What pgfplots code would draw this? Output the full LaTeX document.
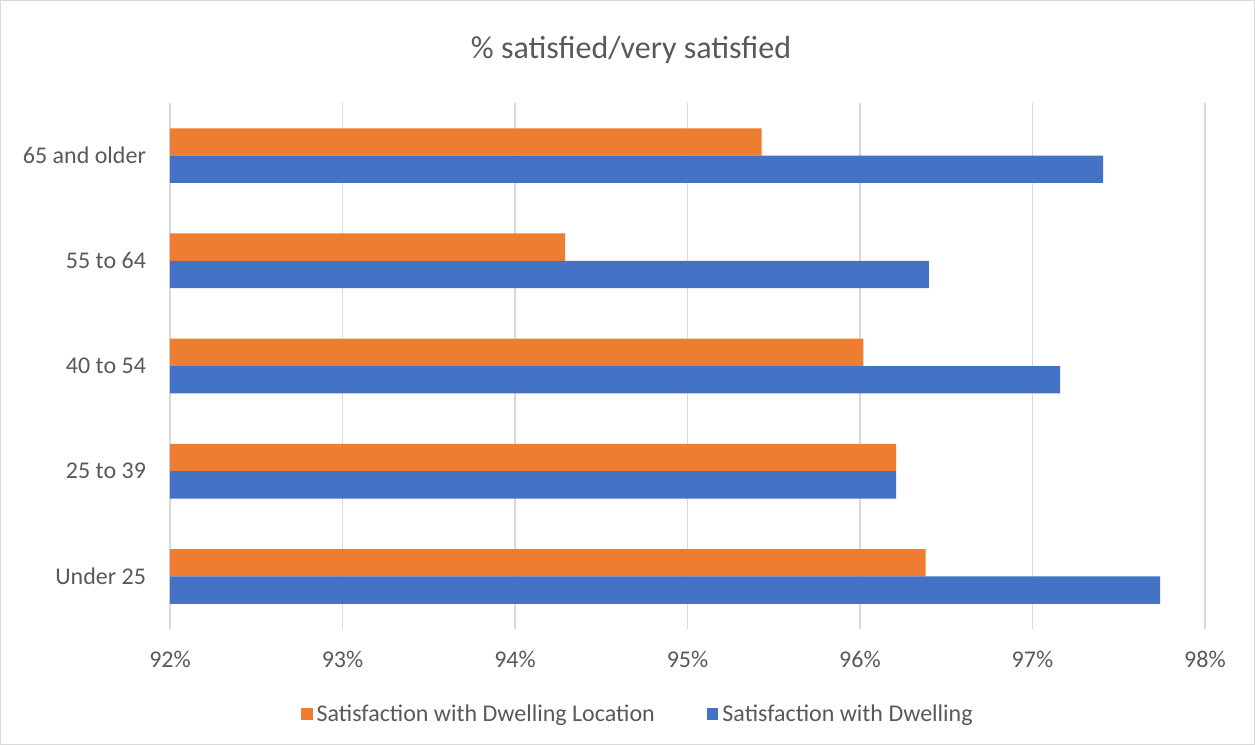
\documentclass[border=0pt]{standalone}
\usepackage{fontspec}
\setmainfont{Carlito}
\usepackage{pgfplots}
\pgfplotsset{compat=1.18}
\definecolor{txt}{HTML}{595959}
\definecolor{gridc}{HTML}{D9D9D9}
\definecolor{borderc}{HTML}{D9D9D9}
\definecolor{orng}{HTML}{ED7D31}
\definecolor{blu}{HTML}{4472C4}
\begin{document}
\begin{tikzpicture}
\draw[borderc, line width=0.6pt] (0.3pt,0.3pt) rectangle (627.2pt,372.2pt);
\node[text=txt, font=\fontsize{16pt}{19pt}\selectfont] at (315.5pt,347.5pt) {\% satisfied/very satisfied};
\begin{axis}[
  at={(85pt,58pt)}, anchor=south west,
  scale only axis, width=517.5pt, height=263pt,
  xbar, bar width=0.26,
  xmin=92, xmax=98, ymin=-0.5, ymax=4.5,
  xtick={92,93,94,95,96,97,98},
  xticklabels={92\%,93\%,94\%,95\%,96\%,97\%,98\%},
  ytick={0,1,2,3,4},
  yticklabels={Under 25,25 to 39,40 to 54,55 to 64,65 and older},
  xmajorgrids, grid style={gridc, line width=0.9pt},
  axis line style={draw=none},
  major tick length=0pt,
  tick label style={text=txt, font=\fontsize{12pt}{14pt}\selectfont},
  xticklabel style={yshift=-7.5pt},
  yticklabel style={xshift=-8.5pt},
  legend columns=2,
  legend style={draw=none, at={(0.453,-0.162)}, anchor=center,
    font=\fontsize{12pt}{14pt}\selectfont, text=txt,
    /tikz/every even column/.append style={column sep=24pt}},
  legend image code/.code={\fill[#1] (0pt,-2.9pt) rectangle (5.8pt,2.9pt);},
]
\addplot[fill=orng, draw=none, bar shift=0.13] coordinates {(96.38,0) (96.21,1) (96.02,2) (94.29,3) (95.43,4)};
\addlegendentry{Satisfaction with Dwelling Location}
\addplot[fill=blu, draw=none, bar shift=-0.13] coordinates {(97.74,0) (96.21,1) (97.16,2) (96.40,3) (97.41,4)};
\addlegendentry{Satisfaction with Dwelling}
\end{axis}
\end{tikzpicture}
\end{document}
